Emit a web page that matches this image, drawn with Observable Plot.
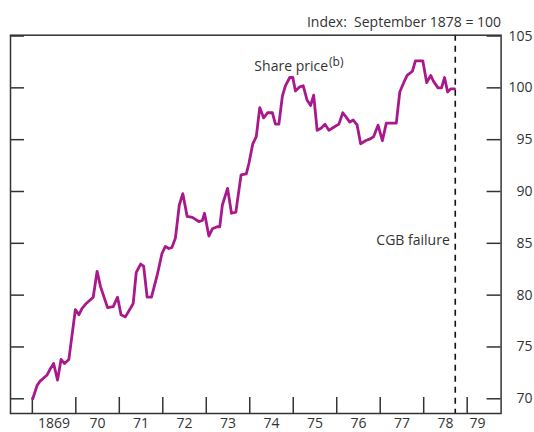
<!DOCTYPE html>
<html><head><meta charset="utf-8">
<script src="https://cdn.jsdelivr.net/npm/d3@7"></script>
<script src="https://cdn.jsdelivr.net/npm/@observablehq/plot@0.6"></script>
<style>html,body{margin:0;padding:0;background:#fff;} svg{display:block}</style>
</head><body><div id="chart"></div>
<script>
// Share price index, decimal years
const dates = [1869.01,1869.11,1869.18,1869.34,1869.40,1869.49,1869.58,1869.66,1869.74,1869.84,
1869.99,1870.07,1870.14,1870.24,1870.40,1870.49,1870.57,1870.73,1870.86,1870.96,
1871.04,1871.14,1871.32,1871.39,1871.49,1871.56,1871.64,1871.74,1871.87,1871.98,
1872.06,1872.14,1872.21,1872.29,1872.38,1872.46,1872.56,1872.68,1872.83,1872.91,
1872.96,1873.06,1873.14,1873.25,1873.31,1873.37,1873.49,1873.58,1873.68,1873.80,
1873.92,1873.98,1874.07,1874.15,1874.23,1874.32,1874.41,1874.52,1874.59,1874.67,
1874.75,1874.82,1874.92,1874.99,1875.05,1875.15,1875.23,1875.32,1875.40,1875.47,
1875.55,1875.64,1875.73,1875.82,1875.93,1876.05,1876.14,1876.23,1876.30,1876.38,
1876.47,1876.55,1876.66,1876.78,1876.85,1876.95,1877.05,1877.14,1877.26,1877.37,
1877.45,1877.54,1877.62,1877.74,1877.81,1877.98,1878.07,1878.16,1878.23,1878.33,
1878.41,1878.48,1878.55,1878.62,1878.71];
const values = [70.0,71.3,71.7,72.3,72.8,73.4,71.8,73.8,73.4,73.8,
78.6,78.1,78.7,79.2,79.8,82.3,80.8,78.8,78.9,79.8,
78.1,77.9,79.2,82.2,83.0,82.8,79.8,79.8,81.9,84.0,
84.7,84.5,84.6,85.5,88.7,89.8,87.6,87.5,87.1,87.2,
87.9,85.7,86.4,86.6,86.6,88.7,90.3,87.9,88.0,91.6,
91.7,92.7,94.6,95.3,98.1,97.1,97.6,97.6,96.5,96.5,
99.2,100.2,101.0,101.0,99.7,100.1,100.2,98.8,98.3,99.3,
95.9,96.1,96.5,95.9,96.2,96.5,97.6,97.1,96.7,96.9,
96.4,94.6,94.9,95.1,95.3,96.4,94.9,96.6,96.6,96.6,
99.6,100.5,101.2,101.6,102.6,102.6,100.5,101.2,100.6,100.0,
100.0,101.0,99.6,99.9,99.9];

const yTicks = [70,75,80,85,90,95,100,105];
const yearTicks = [1869,1870,1871,1872,1873,1874,1875,1876,1877,1878,1879];
const xLabels = ["1869","70","71","72","73","74","75","76","77","78","79"];
const xLabelPos = [1869.5,1870.5,1871.5,1872.5,1873.5,1874.5,1875.5,1876.5,1877.5,1878.5,1879.24];
const cgbDate = 1878.726;
const unitLabel = "Index:\u00a0 September 1878 = 100";
const seriesLabel = [{text:"Share price", sup:"(b)", x:1875.8, y:102.06}];
const eventLabel = [{text:"CGB failure", y:85.27}];

const W = 534, H = 432, mL = 10, mR = 33.4, mT = 34.7, mB = 19;
const innerW = W - mL - mR, innerH = H - mT - mB;
const ink = "#333";
const data = dates.map((d, i) => ({date: d, value: values[i]}));

const chart = Plot.plot({
  width: W, height: H,
  marginLeft: mL, marginRight: mR, marginTop: mT, marginBottom: mB,
  x: {domain: [1868.498, 1879.78], axis: null},
  y: {domain: [68.58, 105.08], axis: null},
  style: {fontFamily: "'Open Sans', sans-serif", fontSize: "14px", color: ink, background: "#fff", overflow: "visible"},
  marks: [
    Plot.tickY(yTicks, {y: d => d, insetRight: innerW - 14, stroke: ink, strokeWidth: 1.5}),
    Plot.tickY(yTicks, {y: d => d, insetLeft: innerW - 14, stroke: ink, strokeWidth: 1.5}),
    Plot.tickX(yearTicks, {x: d => d, insetTop: innerH - 16, stroke: ink, strokeWidth: 1.5}),
    Plot.ruleX([cgbDate], {x: d => d, stroke: "#111", strokeWidth: 1.6, strokeDasharray: "6,5"}),
    Plot.line(data, {x: "date", y: "value", stroke: "#a8198c", strokeWidth: 2.8}),
    Plot.frame({stroke: ink, strokeWidth: 1.5}),
    Plot.text(yTicks, {y: d => d, text: d => String(d), frameAnchor: "right", dx: 31.4, textAnchor: "end", lineAnchor: "middle", fill: ink}),
    Plot.text(xLabels, {x: (d, i) => xLabelPos[i], text: d => d, frameAnchor: "bottom", dy: 10, lineAnchor: "middle", fill: ink}),
    Plot.text([unitLabel], {text: d => d, frameAnchor: "top-right", dy: -12.7, textAnchor: "end", lineAnchor: "middle", fill: ink}),
    Plot.text(seriesLabel, {x: "x", y: "y", text: "text", textAnchor: "end", lineAnchor: "middle", fill: ink}),
    Plot.text(seriesLabel, {x: "x", y: "y", text: "sup", textAnchor: "start", lineAnchor: "middle", dx: 1, dy: -4, fontSize: 12, fill: ink}),
    Plot.text(eventLabel, {x: () => cgbDate, y: "y", text: "text", textAnchor: "end", lineAnchor: "middle", dx: -5.5, fill: ink})
  ]
});
document.getElementById("chart").appendChild(chart);
</script>
</body></html>
